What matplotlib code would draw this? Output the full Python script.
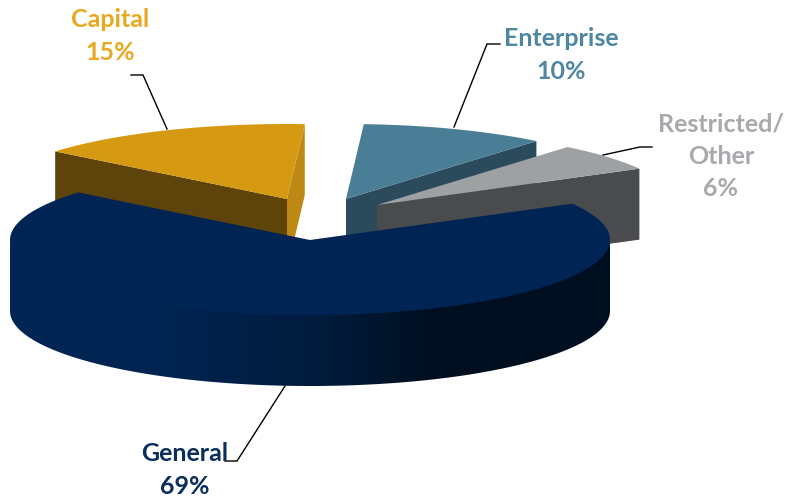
import numpy as np
import matplotlib.pyplot as plt
from matplotlib.colors import LinearSegmentedColormap
from matplotlib.patches import Polygon

plt.rcParams['font.family'] = ['Lato', 'DejaVu Sans']

# Budget shares, listed counter-clockwise from the start angle
names = ["Restricted/\nOther", "Enterprise", "Capital", "General"]
shares = [6, 10, 15, 69]

start_angle = 29
rx, ry, depth = 300, 75, 71

# exploded slice tips, in pixels
tips = [(377, 205), (346, 199), (287, 199), (310, 240)]
top_colors = ["#9ea1a4", "#4a7e97", "#d69a12", "#002554"]
face_colors = ["#4a4b4d", "#2b4a5b", "#5e430a", "#002554"]
end_face_colors = ["#4a4b4d", "#2b4a5b", "#bd8814", "#002554"]
text_colors = ["#a7a9ac", "#4f87a3", "#e8a820", "#0a2d5c"]

# label centre, leader line
label_pos = [(721, 156), (561, 55), (110, 36), (185, 470)]
leaders = [
    [(603, 155), (640, 147), (652, 147)],
    [(454, 127), (487, 44), (500, 44)],
    [(167, 129), (143, 75), (131, 75)],
    [(285, 386), (237, 461), (225, 461)],
]

rim_cmap = LinearSegmentedColormap.from_list(
    "rim", [(0, "#002554"), (0.24, "#002452"), (0.53, "#001b3b"),
            (0.7, "#000f20"), (1, "#00101f")])


def arc(tip, a0, a1, n=120):
    t = np.radians(np.linspace(a0, a1, n))
    return np.column_stack([tip[0] + rx * np.cos(t), tip[1] - ry * np.sin(t)])


def cut_face(tip, angle):
    # flat radial side of a slice, hanging down from the top surface
    edge = arc(tip, angle, angle, 1)[0]
    return [tip, edge, (edge[0], edge[1] + depth), (tip[0], tip[1] + depth)]


fig = plt.figure(figsize=(7.86, 4.98), dpi=100)
ax = fig.add_axes([0, 0, 1, 1])

spans = np.array(shares) / sum(shares) * 360
ends = start_angle + np.cumsum(spans)
starts = ends - spans

# painter's order: back slices first, General on top of the rest
for z, i in enumerate([2, 1, 0, 3]):
    tip, a0, a1 = tips[i], starts[i], ends[i]

    # a cut side is only visible when its normal points at the viewer
    if np.sin(np.radians(a0 - 90)) < 0:
        ax.add_patch(Polygon(cut_face(tip, a0), fc=end_face_colors[i], ec="none", zorder=z))
    if np.sin(np.radians(a1 + 90)) < 0:
        ax.add_patch(Polygon(cut_face(tip, a1), fc=face_colors[i], ec="none", zorder=z))

    # outer wall, only the part in front of the pie, shaded left to right
    if a1 > 180 and a0 < 360:
        outer = arc(tip, max(a0, 180), min(a1, 360), 200)
        wall = Polygon(np.vstack([outer - [0, 2], outer[::-1] + [0, depth]]), fc="none", ec="none", zorder=z)
        ax.add_patch(wall)
        grad = ax.imshow(np.linspace(0, 1, 300)[None, :], cmap=rim_cmap, aspect="auto", zorder=z,
                         extent=(tip[0] - rx, tip[0] + rx, tip[1] + ry + depth, tip[1] - 2))
        grad.set_clip_path(wall)

    top = np.vstack([[tip], arc(tip, a0, a1, 240)])
    ax.add_patch(Polygon(top, fc=top_colors[i], ec="none", zorder=z + 0.5))

ax.set_xlim(0, 786)
ax.set_ylim(498, 0)
ax.axis("off")

for pts in leaders:
    xs, ys = zip(*pts)
    ax.plot(xs, ys, color="black", lw=1.0, zorder=10, solid_joinstyle="miter")

for name, share, pos, color in zip(names, shares, label_pos, text_colors):
    ax.text(pos[0], pos[1], f"{name}\n{share}%", color=color, fontsize=18,
            fontweight="bold", ha="center", va="center", linespacing=1.5, zorder=11)

fig.savefig("out.png", dpi=100)
